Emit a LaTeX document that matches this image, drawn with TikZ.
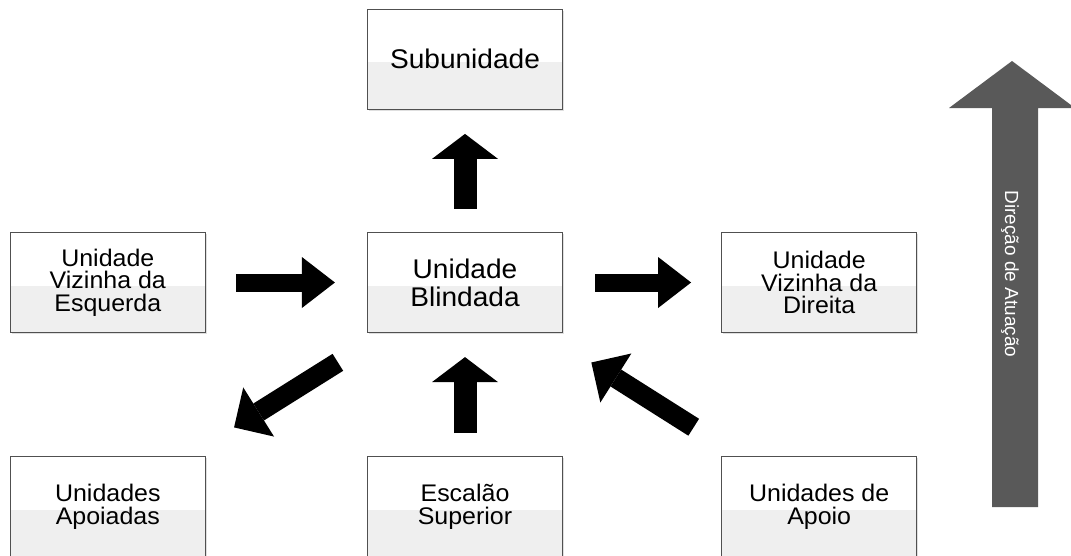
\documentclass[tikz,border=0pt]{standalone}
\usepackage{fontspec}
\usetikzlibrary{arrows.meta,positioning,shadows}
\newfontfamily\boxfont[FakeStretch=1.04]{Liberation Sans}
\newfontfamily\dirfont{Liberation Sans}
\definecolor{BoxLine}{HTML}{505050}
\definecolor{LowGray}{HTML}{EFEFEF}
\definecolor{DirClr}{HTML}{595959}

\tikzset{
  unitbox/.style={draw=BoxLine,line width=1.2pt,fill=white,
    minimum width=195pt,minimum height=100pt,inner sep=0pt,align=center,
    font=\boxfont\fontsize{24}{22.5}\selectfont,
    drop shadow={shadow xshift=1.5pt,shadow yshift=-1.5pt,opacity=.25,fill=gray},
    path picture={\fill[LowGray] ([yshift=-3pt]path picture bounding box.west)
      rectangle (path picture bounding box.south east);}},
  mainbox/.style={unitbox,font=\boxfont\fontsize{27}{28}\selectfont},
  vblock/.style={line width=23pt,-{Triangle[width=66pt,length=25pt,line width=0pt]}},
  hblock/.style={line width=18pt,-{Triangle[width=51pt,length=33pt,line width=0pt]}},
  dblock/.style={line width=20pt,-{Triangle[width=58pt,length=29pt,line width=0pt]}}
}

\begin{document}
\begin{tikzpicture}[x=1pt,y=1pt]
\useasboundingbox (0,0) rectangle (1071,-555);

\node[mainbox] (ub) at (465,-282.5) {Unidade\\Blindada};
\node[mainbox,above=122pt of ub] (sub) {Subunidade};
\node[unitbox,left=161pt of ub] (eviz) {Unidade\\Vizinha da\\Esquerda};
\node[unitbox,right=158pt of ub] (dviz) {Unidade\\Vizinha da\\Direita};
\node[unitbox,below=123pt of eviz] (apoiadas) {Unidades\\Apoiadas};
\node[unitbox,below=123pt of ub] (escalao) {Escal\~ao\\Superior};
\node[unitbox,below=123pt of dviz] (apoio) {Unidades de\\Apoio};

\draw[vblock,shorten <=23pt,shorten >=24pt] (ub) -- (sub);
\draw[hblock,shorten <=30pt,shorten >=32pt] (eviz) -- (ub);
\draw[hblock,shorten <=32pt,shorten >=30pt] (ub) -- (dviz);
\draw[dblock,shorten <=55pt,shorten >=54pt] (ub) -- (apoiadas);
\draw[vblock,shorten <=23pt,shorten >=24pt] (escalao) -- (ub);
\draw[dblock,shorten <=54pt,shorten >=55pt] (apoio) -- (ub);

% seta da direcao de atuacao
\fill[DirClr] (1012,-61) -- (1075,-108) -- (1038,-108) -- (1038,-507)
  -- (992,-507) -- (992,-108) -- (949,-108) -- cycle;
\node[rotate=-90,text=white,font=\dirfont\fontsize{19}{19}\selectfont] (dir)
  at (1010,-274) {Dire\c{c}\~ao de Atua\c{c}\~ao};

\end{tikzpicture}
\end{document}
